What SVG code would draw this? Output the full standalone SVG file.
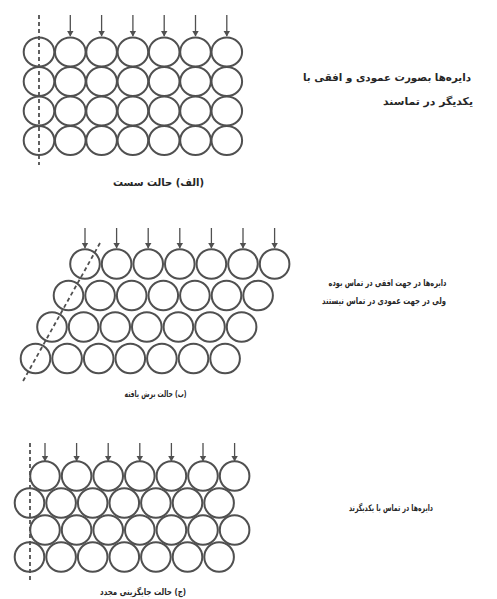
<svg xmlns="http://www.w3.org/2000/svg" width="497" height="599" viewBox="0 0 497 599">
<style>
.c{fill:#fff;stroke:#505050;stroke-width:2}
.a{stroke:#505050;stroke-width:1.3;fill:none;marker-end:url(#ah)}
.d{stroke:#505050;stroke-width:1.8;stroke-dasharray:4 3;fill:none}
.t{font-family:"DejaVu Sans",sans-serif;font-size:10.5px;font-weight:bold;fill:#262626;text-anchor:middle;direction:rtl}
.s{font-size:9px}
</style>
<defs>
<marker id="ah" viewBox="0 0 6 8" refX="5.5" refY="4" markerWidth="6" markerHeight="8" markerUnits="userSpaceOnUse" orient="auto">
<path d="M0,0.5 L6,4 L0,7.5 Z" fill="#505050"/>
</marker>
</defs>
<rect width="497" height="599" fill="#fff"/>

<g id="panel-a">
<g id="circles-a">
<ellipse class="c" cx="39" cy="52" rx="15.3" ry="14.5"/><ellipse class="c" cx="70.3" cy="52" rx="15.3" ry="14.5"/><ellipse class="c" cx="101.6" cy="52" rx="15.3" ry="14.5"/><ellipse class="c" cx="132.9" cy="52" rx="15.3" ry="14.5"/><ellipse class="c" cx="164.2" cy="52" rx="15.3" ry="14.5"/><ellipse class="c" cx="195.5" cy="52" rx="15.3" ry="14.5"/><ellipse class="c" cx="226.8" cy="52" rx="15.3" ry="14.5"/>
<ellipse class="c" cx="39" cy="81.5" rx="15.3" ry="14.5"/><ellipse class="c" cx="70.3" cy="81.5" rx="15.3" ry="14.5"/><ellipse class="c" cx="101.6" cy="81.5" rx="15.3" ry="14.5"/><ellipse class="c" cx="132.9" cy="81.5" rx="15.3" ry="14.5"/><ellipse class="c" cx="164.2" cy="81.5" rx="15.3" ry="14.5"/><ellipse class="c" cx="195.5" cy="81.5" rx="15.3" ry="14.5"/><ellipse class="c" cx="226.8" cy="81.5" rx="15.3" ry="14.5"/>
<ellipse class="c" cx="39" cy="111" rx="15.3" ry="14.5"/><ellipse class="c" cx="70.3" cy="111" rx="15.3" ry="14.5"/><ellipse class="c" cx="101.6" cy="111" rx="15.3" ry="14.5"/><ellipse class="c" cx="132.9" cy="111" rx="15.3" ry="14.5"/><ellipse class="c" cx="164.2" cy="111" rx="15.3" ry="14.5"/><ellipse class="c" cx="195.5" cy="111" rx="15.3" ry="14.5"/><ellipse class="c" cx="226.8" cy="111" rx="15.3" ry="14.5"/>
<ellipse class="c" cx="39" cy="140.5" rx="15.3" ry="14.5"/><ellipse class="c" cx="70.3" cy="140.5" rx="15.3" ry="14.5"/><ellipse class="c" cx="101.6" cy="140.5" rx="15.3" ry="14.5"/><ellipse class="c" cx="132.9" cy="140.5" rx="15.3" ry="14.5"/><ellipse class="c" cx="164.2" cy="140.5" rx="15.3" ry="14.5"/><ellipse class="c" cx="195.5" cy="140.5" rx="15.3" ry="14.5"/><ellipse class="c" cx="226.8" cy="140.5" rx="15.3" ry="14.5"/>
</g>
<g id="connectors-a">
<line class="d" x1="39" y1="15" x2="39" y2="165"/>
<line class="a" x1="70.3" y1="15" x2="70.3" y2="36"/><line class="a" x1="101.6" y1="15" x2="101.6" y2="36"/><line class="a" x1="132.9" y1="15" x2="132.9" y2="36"/><line class="a" x1="164.2" y1="15" x2="164.2" y2="36"/><line class="a" x1="195.5" y1="15" x2="195.5" y2="36"/><line class="a" x1="226.8" y1="15" x2="226.8" y2="36"/>
</g>
<text class="t" x="158.5" y="186" textLength="91" lengthAdjust="spacingAndGlyphs">(الف) حالت سست</text>
<text class="t" x="387" y="81" textLength="168" lengthAdjust="spacingAndGlyphs">دایره‌ها بصورت عمودی و افقی با</text>
<text class="t" x="428" y="105" textLength="90" lengthAdjust="spacingAndGlyphs">یکدیگر در تماسند</text>
</g>

<g id="panel-b">
<g id="circles-b">
<circle class="c" cx="85" cy="264" r="14.8"/><circle class="c" cx="116.6" cy="264" r="14.8"/><circle class="c" cx="148.2" cy="264" r="14.8"/><circle class="c" cx="179.8" cy="264" r="14.8"/><circle class="c" cx="211.4" cy="264" r="14.8"/><circle class="c" cx="243" cy="264" r="14.8"/><circle class="c" cx="274.6" cy="264" r="14.8"/>
<circle class="c" cx="68.5" cy="295.5" r="14.8"/><circle class="c" cx="100.1" cy="295.5" r="14.8"/><circle class="c" cx="131.7" cy="295.5" r="14.8"/><circle class="c" cx="163.3" cy="295.5" r="14.8"/><circle class="c" cx="194.9" cy="295.5" r="14.8"/><circle class="c" cx="226.5" cy="295.5" r="14.8"/><circle class="c" cx="258.1" cy="295.5" r="14.8"/>
<circle class="c" cx="52" cy="327" r="14.8"/><circle class="c" cx="83.6" cy="327" r="14.8"/><circle class="c" cx="115.2" cy="327" r="14.8"/><circle class="c" cx="146.8" cy="327" r="14.8"/><circle class="c" cx="178.4" cy="327" r="14.8"/><circle class="c" cx="210" cy="327" r="14.8"/><circle class="c" cx="241.6" cy="327" r="14.8"/>
<circle class="c" cx="35.5" cy="358.5" r="14.8"/><circle class="c" cx="67.1" cy="358.5" r="14.8"/><circle class="c" cx="98.7" cy="358.5" r="14.8"/><circle class="c" cx="130.3" cy="358.5" r="14.8"/><circle class="c" cx="161.9" cy="358.5" r="14.8"/><circle class="c" cx="193.5" cy="358.5" r="14.8"/><circle class="c" cx="225.1" cy="358.5" r="14.8"/>
</g>
<g id="connectors-b">
<line class="d" x1="100" y1="243" x2="22" y2="383"/>
<line class="a" x1="85" y1="228" x2="85" y2="248"/><line class="a" x1="116.6" y1="228" x2="116.6" y2="248"/><line class="a" x1="148.2" y1="228" x2="148.2" y2="248"/><line class="a" x1="179.8" y1="228" x2="179.8" y2="248"/><line class="a" x1="211.4" y1="228" x2="211.4" y2="248"/><line class="a" x1="243" y1="228" x2="243" y2="248"/><line class="a" x1="274.6" y1="228" x2="274.6" y2="248"/>
</g>
<text class="t s" x="155.5" y="397" textLength="62" lengthAdjust="spacingAndGlyphs">(ب) حالت برش یافته</text>
<text class="t s" x="387.5" y="286" textLength="118" lengthAdjust="spacingAndGlyphs">دایره‌ها در جهت افقی در تماس بوده</text>
<text class="t s" x="384" y="304" textLength="124" lengthAdjust="spacingAndGlyphs">ولی در جهت عمودی در تماس نیستند</text>
</g>

<g id="panel-c">
<g id="circles-c">
<circle class="c" cx="45" cy="476" r="14.8"/><circle class="c" cx="76.6" cy="476" r="14.8"/><circle class="c" cx="108.2" cy="476" r="14.8"/><circle class="c" cx="139.8" cy="476" r="14.8"/><circle class="c" cx="171.4" cy="476" r="14.8"/><circle class="c" cx="203" cy="476" r="14.8"/><circle class="c" cx="234.6" cy="476" r="14.8"/>
<circle class="c" cx="29.5" cy="503" r="14.8"/><circle class="c" cx="61.1" cy="503" r="14.8"/><circle class="c" cx="92.7" cy="503" r="14.8"/><circle class="c" cx="124.3" cy="503" r="14.8"/><circle class="c" cx="155.9" cy="503" r="14.8"/><circle class="c" cx="187.5" cy="503" r="14.8"/><circle class="c" cx="219.1" cy="503" r="14.8"/>
<circle class="c" cx="45" cy="530" r="14.8"/><circle class="c" cx="76.6" cy="530" r="14.8"/><circle class="c" cx="108.2" cy="530" r="14.8"/><circle class="c" cx="139.8" cy="530" r="14.8"/><circle class="c" cx="171.4" cy="530" r="14.8"/><circle class="c" cx="203" cy="530" r="14.8"/><circle class="c" cx="234.6" cy="530" r="14.8"/>
<circle class="c" cx="29.5" cy="557" r="14.8"/><circle class="c" cx="61.1" cy="557" r="14.8"/><circle class="c" cx="92.7" cy="557" r="14.8"/><circle class="c" cx="124.3" cy="557" r="14.8"/><circle class="c" cx="155.9" cy="557" r="14.8"/><circle class="c" cx="187.5" cy="557" r="14.8"/><circle class="c" cx="219.1" cy="557" r="14.8"/>
</g>
<g id="connectors-c">
<line class="d" x1="30" y1="443" x2="30" y2="582"/>
<line class="a" x1="45" y1="443" x2="45" y2="461"/><line class="a" x1="76.6" y1="443" x2="76.6" y2="461"/><line class="a" x1="108.2" y1="443" x2="108.2" y2="461"/><line class="a" x1="139.8" y1="443" x2="139.8" y2="461"/><line class="a" x1="171.4" y1="443" x2="171.4" y2="461"/><line class="a" x1="203" y1="443" x2="203" y2="461"/><line class="a" x1="234.6" y1="443" x2="234.6" y2="461"/>
</g>
<text class="t s" x="143" y="595" textLength="86" lengthAdjust="spacingAndGlyphs">(ج) حالت جایگزینی مجدد</text>
<text class="t s" x="391" y="511" textLength="84" lengthAdjust="spacingAndGlyphs">دایره‌ها در تماس با یکدیگرند</text>
</g>
</svg>
